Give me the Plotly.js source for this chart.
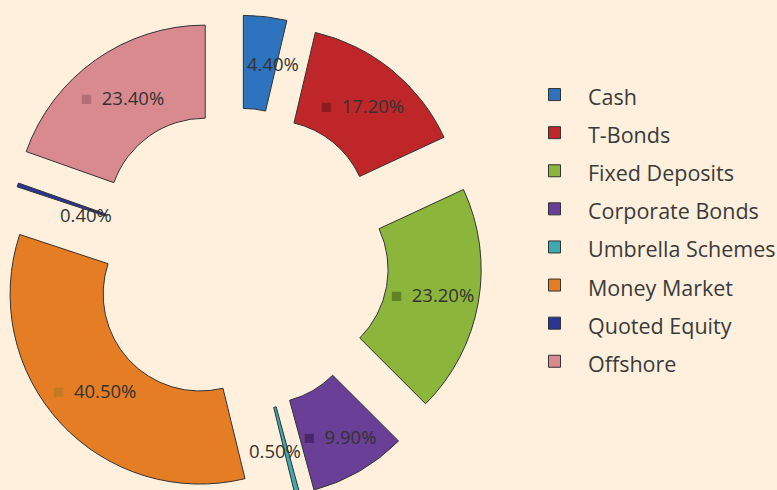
<!DOCTYPE html>
<html><head><meta charset="utf-8">
<script src="https://cdn.plot.ly/plotly-3.0.1.min.js"></script>
<style>
html,body{margin:0;padding:0;background:#FEF0DC;overflow:hidden;width:777px;height:490px;}
#chart{position:absolute;left:-30px;top:0;width:900px;height:520px;}
</style></head><body><div id="chart"></div>
<script>
// ---- data ----
const labels = ['Cash','T-Bonds','Fixed Deposits','Corporate Bonds','Umbrella Schemes','Money Market','Quoted Equity','Offshore'];
const values = [4.40, 17.20, 23.20, 9.90, 0.50, 40.50, 0.40, 23.40];
const valueText = ['4.40%','17.20%','23.20%','9.90%','0.50%','40.50%','0.40%','23.40%'];

// ---- styles ----
const colors = ['#2E73BE','#BF262A','#8CB63B','#6A3F97','#3DA9B2','#E57D24','#2B3596','#D98A8F'];
const keyColors = ['#1f5596','#8f1a1d','#5f8224','#4a2670','#2a8088','#c47a22','#1c2470','#b07076'];
const pulls = [0.29, 0.29, 0.29, 0.285, 0.29, 0.265, 0.22, 0.29];
const W = 900, H = 520, M = {l:0, r:0, t:15, b:15};
const pw = W - M.l - M.r, ph = H - M.t - M.b;
const CX = 267, CY = 245;          // pie centre inside plot area (px)
const HALF = 245;
function dom(h){ return {x:[(CX-h)/pw,(CX+h)/pw], y:[1-(CY+h)/ph, 1-(CY-h)/ph]}; }

const small = values.map(v => v < 5);
const mainTpl = values.map((v,i) => small[i] ? '' :
  '<span style="color:'+keyColors[i]+';font-size:19px">■</span>\u00a0 %{text}');

const main = {
  type:'pie', labels: labels.map(l => '<span style="font-size:21.5px">'+l+'</span>'),
  values: values, text: valueText, texttemplate: mainTpl,
  textposition:'inside', insidetextorientation:'horizontal',
  insidetextfont:{family:'"Open Sans", sans-serif', size:18.5, color:'#333333'},
  sort:false, direction:'clockwise', rotation:0, hole:0.51, pull:pulls,
  marker:{colors:colors, line:{color:'#333333', width:1}},
  domain: dom(HALF), hoverinfo:'skip', showlegend:true
};

// labels of the thin slices: placed at their own mid-angle (computed from the values)
const lblStyle = {0:{r:198, dx:13, dy:0}, 4:{r:197, dx:-11, dy:0}, 6:{r:158, dx:-2, dy:6}};
const total = values.reduce((a,b)=>a+b,0);
const annotations = [];
let cum = 0;
values.forEach((v,i) => {
  const mid = (cum + v/2) / total * 2*Math.PI; cum += v;
  if (!small[i]) return;
  const s = lblStyle[i];
  const px = CX + s.r*Math.sin(mid) + s.dx, py = CY - s.r*Math.cos(mid) + s.dy;
  annotations.push({xref:'paper', yref:'paper', x:px/pw, y:1-py/ph, xanchor:'center', yanchor:'middle',
    text:valueText[i], showarrow:false, font:{family:'"Open Sans", sans-serif', size:18.5, color:'#333333'}});
});

const layout = {
  width:W, height:H, margin:M, paper_bgcolor:'#FEF0DC', plot_bgcolor:'#FEF0DC',
  showlegend:true, annotations: annotations,
  legend:{x:551/pw, xanchor:'left', y:1-55.5/ph, yanchor:'top', itemwidth:57,
          bgcolor:'rgba(0,0,0,0)', font:{family:'"Open Sans", sans-serif', size:27, color:'#3a3a3a'}}
};
Plotly.newPlot('chart', [main], layout, {staticPlot:true});
</script></body></html>
